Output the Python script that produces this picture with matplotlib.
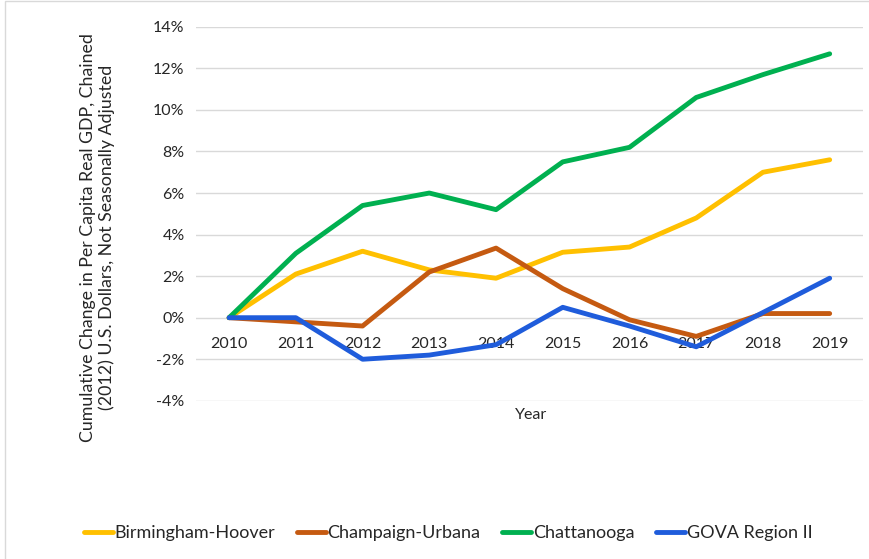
import matplotlib
matplotlib.use("Agg")
import matplotlib.pyplot as plt
from matplotlib.ticker import FuncFormatter
from matplotlib.patches import Rectangle

years = ["2010", "2011", "2012", "2013", "2014", "2015", "2016", "2017", "2018", "2019"]
birmingham = [0.0, 2.1, 3.2, 2.3, 1.9, 3.15, 3.4, 4.8, 7.0, 7.6]
champaign = [0.0, -0.2, -0.4, 2.2, 3.35, 1.4, -0.1, -0.9, 0.2, 0.2]
chattanooga = [0.0, 3.1, 5.4, 6.0, 5.2, 7.5, 8.2, 10.6, 11.7, 12.7]
gova = [0.0, 0.0, -2.0, -1.8, -1.3, 0.5, -0.4, -1.4, 0.25, 1.9]

series = [
    ("Birmingham-Hoover", birmingham, "#FFC000"),
    ("Champaign-Urbana", champaign, "#C55A11"),
    ("Chattanooga", chattanooga, "#00B050"),
    ("GOVA Region II", gova, "#1F5CDB"),
]

plt.rcParams["font.family"] = ["Lato", "DejaVu Sans"]
txt = "#262626"

fig = plt.figure(figsize=(8.7, 5.59), dpi=100)
ax = fig.add_axes([0.225, 0.283, 0.767, 0.669])

x = list(range(len(years)))
for name, vals, color in series:
    ax.plot(x, vals, color=color, lw=3.5, label=name, solid_capstyle="round")

ax.set_xlim(-0.5, len(years) - 0.5)
ax.set_ylim(-4, 14)
ax.set_yticks(range(-4, 15, 2))
ax.yaxis.set_major_formatter(FuncFormatter(lambda v, p: "%d%%" % v))
ax.grid(axis="y", color="#d9d9d9", lw=1)
ax.set_axisbelow(True)
for s in ax.spines.values():
    s.set_visible(False)

ax.set_xticks(x)
ax.set_xticklabels(years)
ax.spines["bottom"].set_position(("data", 0))
ax.tick_params(axis="x", length=0, pad=14, labelsize=11.5, labelcolor=txt)
ax.tick_params(axis="y", length=0, pad=8, labelsize=11.5, labelcolor=txt)

fig.text(0.61, 0.258, "Year", ha="center", va="center", fontsize=11.5, color=txt)
fig.text(0.112, 0.575, "Cumulative Change in Per Capita Real GDP, Chained\n(2012) U.S. Dollars, Not Seasonally Adjusted",
         rotation=90, ha="center", va="center", fontsize=12.8, color=txt, linespacing=1.15)

handles, labels = ax.get_legend_handles_labels()
fig.legend(handles, labels, loc="center", bbox_to_anchor=(0.515, 0.046), ncol=4, frameon=False,
           fontsize=13, handlelength=1.6, handletextpad=0.1, columnspacing=1.2, labelcolor=txt)

fig.patches.append(Rectangle((0.006, -0.1), 1.2, 1.098, transform=fig.transFigure,
                             fill=False, edgecolor="#d9d9d9", lw=1))

fig.savefig("out.png", dpi=100)
